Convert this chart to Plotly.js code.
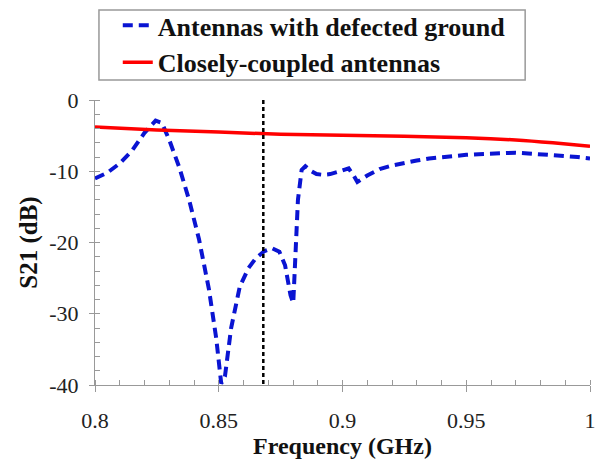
<!DOCTYPE html>
<html>
<head>
<meta charset="utf-8">
<script src="https://cdn.plot.ly/plotly-3.0.1.min.js"></script>
<style>html,body{margin:0;padding:0;background:#fff;}#chart{width:596px;height:460px;}</style>
</head>
<body>
<div id="chart"></div>
<script>
// Antennas with defected ground (blue dashed)
var defectFreq = [0.800, 0.805, 0.810, 0.815, 0.820, 0.8245, 0.827, 0.830, 0.834, 0.838, 0.842, 0.846, 0.849, 0.851, 0.8525, 0.855, 0.8585, 0.862, 0.865, 0.8685, 0.8715, 0.8745, 0.8768, 0.878, 0.879, 0.8801, 0.881, 0.882, 0.8835, 0.885, 0.8875, 0.8895, 0.892, 0.895, 0.899, 0.9025, 0.9045, 0.906, 0.910, 0.915, 0.920, 0.925, 0.930, 0.935, 0.940, 0.945, 0.950, 0.955, 0.960, 0.965, 0.970, 0.975, 0.980, 0.985, 0.990, 0.995, 1.000];
var defectS21 = [-11.0, -10.2, -8.9, -7.1, -4.6, -2.9, -3.2, -5.6, -9.4, -14.0, -19.5, -26.5, -33.5, -39.8, -38.8, -32.0, -26.2, -23.6, -22.2, -21.2, -20.8, -21.3, -23.2, -25.7, -27.4, -28.5, -21.0, -14.0, -9.8, -9.3, -10.0, -10.4, -10.5, -10.4, -10.0, -9.6, -10.6, -11.5, -10.6, -9.7, -9.2, -8.8, -8.5, -8.2, -8.0, -7.8, -7.7, -7.6, -7.5, -7.4, -7.4, -7.5, -7.6, -7.7, -7.8, -8.0, -8.2];
// Closely-coupled antennas (red solid)
var coupledFreq = [0.800, 0.825, 0.850, 0.875, 0.900, 0.925, 0.950, 0.970, 0.985, 1.000];
var coupledS21 = [-3.8, -4.2, -4.5, -4.8, -4.95, -5.1, -5.3, -5.6, -6.0, -6.5];
// Vertical marker
var markerFreq = [0.868, 0.868];
var markerS21 = [0, -40];
// Ticks
var xTickVals = [0.8, 0.85, 0.9, 0.95, 1];
var xTickText = ["0.8", "0.85", "0.9", "0.95", "1"];
var yTickVals = [0, -10, -20, -30, -40];
var yTickText = ["0", "-10", "-20", "-30", "-40"];
var seriesNames = ["Antennas with defected ground", "Closely-coupled antennas"];

var serif = "Liberation Serif, Times New Roman, serif";

var traces = [
  {x: defectFreq, y: defectS21, mode: "lines", name: seriesNames[0],
   line: {color: "#0a14d2", width: 4, dash: "10px,6px"}},
  {x: coupledFreq, y: coupledS21, mode: "lines", name: seriesNames[1],
   line: {color: "#ff0000", width: 3.5, shape: "spline", smoothing: 0.6}},
  {x: markerFreq, y: markerS21, mode: "lines", showlegend: false, hoverinfo: "skip",
   line: {color: "#000000", width: 2.5, dash: "4px,3px"}}
];

var layout = {
  width: 596, height: 460,
  margin: {l: 95, r: 6, t: 100, b: 75, autoexpand: false},
  paper_bgcolor: "#fff", plot_bgcolor: "#fff",
  font: {family: serif, color: "#1a1a1a"},
  showlegend: true,
  legend: {x: 0.046, xanchor: "left", y: 1.344, yanchor: "top",
    bgcolor: "rgba(0,0,0,0)", borderwidth: 0, tracegroupgap: 0,
    font: {family: serif, size: 26, weight: "bold", color: "#111"}},
  shapes: [{type: "rect", xref: "paper", yref: "paper", x0: 0.008, x1: 0.869, y0: 1.070, y1: 1.316,
    line: {color: "#999", width: 1.5}, fillcolor: "rgba(0,0,0,0)", layer: "below"}],
  xaxis: {range: [0.8, 1], tickvals: xTickVals, ticktext: xTickText, automargin: false,
    showgrid: false, zeroline: false, showline: true, linecolor: "#999", linewidth: 1,
    ticks: "outside", ticklen: 6, tickcolor: "#999", ticklabelstandoff: 10,
    minor: {dtick: 0.01, ticks: "inside", ticklen: 5, tickcolor: "#999", showgrid: false},
    tickfont: {family: serif, size: 22, color: "#222"},
    title: {text: "Frequency (GHz)", standoff: 0, font: {family: serif, size: 24, weight: "bold", color: "#111"}},
    fixedrange: true},
  yaxis: {range: [-40, 0], tickvals: yTickVals, ticktext: yTickText, automargin: false,
    showgrid: false, zeroline: false, showline: true, linecolor: "#999", linewidth: 1,
    ticks: "outside", ticklen: 5, tickcolor: "#999", ticklabelstandoff: 6,
    minor: {dtick: 2, ticks: "inside", ticklen: 5, tickcolor: "#999", showgrid: false},
    tickfont: {family: serif, size: 22, color: "#222"},
    title: {text: "S21 (dB)", standoff: 4, font: {family: serif, size: 25, weight: "bold", color: "#111"}},
    fixedrange: true}
};

Plotly.newPlot("chart", traces, layout, {displayModeBar: false, staticPlot: true});
</script>
</body>
</html>
